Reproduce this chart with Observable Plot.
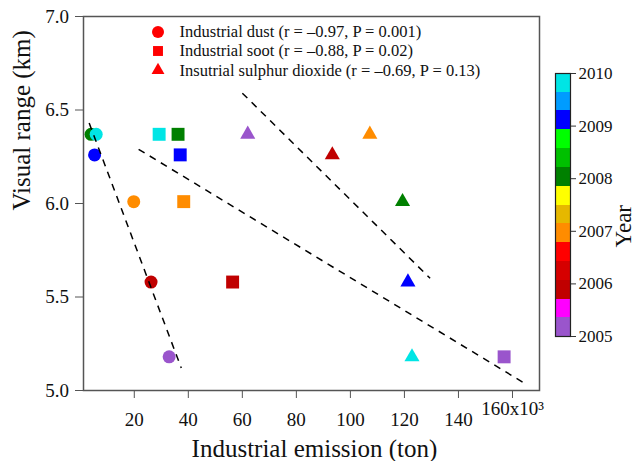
<!DOCTYPE html>
<html>
<head>
<meta charset="utf-8">
<script src="https://cdn.jsdelivr.net/npm/d3@7"></script>
<script src="https://cdn.jsdelivr.net/npm/@observablehq/plot@0.6"></script>
<style>
  body { margin: 0; background: white; }
  #wrap { position: relative; width: 637px; height: 461px; }
  #wrap svg { position: absolute; left: 0; top: 0; }
  #wrap svg, #wrap svg text { font-family: "Liberation Serif", serif !important; }
</style>
</head>
<body>
<div id="wrap"></div>
<script>
// ---- Data ----
const years = [2005, 2006, 2007, 2008, 2009, 2010];
const dustEmission = [32.9, 26.2, 19.8, 4.0, 5.3, 5.9];      // x10^3 ton
const dustVisual   = [5.18, 5.58, 6.01, 6.37, 6.26, 6.37];    // km
const sootEmission = [156.9, 56.4, 38.3, 36.2, 37.0, 29.2];
const sootVisual   = [5.18, 5.58, 6.01, 6.37, 6.26, 6.37];
const so2Emission  = [62.0, 93.3, 107.2, 119.3, 121.3, 122.8];
const so2Visual    = [6.37, 6.26, 6.37, 6.01, 5.58, 5.18];

// fitted (dashed) lines: start / end
const fitNames = ["dust", "soot", "so2"];
const fitX1 = [3.3, 21.6, 60.0];
const fitY1 = [6.43, 6.29, 6.59];
const fitX2 = [37.4, 164.3, 129.5];
const fitY2 = [5.12, 5.04, 5.60];

const legendLabels = [
  "Industrial dust (r = \u20130.97, P = 0.001)",
  "Industrial soot (r = \u20130.88, P = 0.02)",
  "Insutrial sulphur dioxide (r = \u20130.69, P = 0.13)"
];
const legendSymbols = ["circle", "square", "triangle"];

const xTicks = [20, 40, 60, 80, 100, 120, 140, 160];
const yTicks = [5.0, 5.5, 6.0, 6.5, 7.0];

// colour bar: bin edges (years) and colours, bottom to top
const binEdges = [2005.36, 2005.71, 2006.07, 2006.43, 2006.79, 2007.14, 2007.50,
                  2007.86, 2008.21, 2008.57, 2008.93, 2009.29, 2009.64];
const binColors = ["#9a55cc", "#ff00ff", "#c00000", "#d60000", "#ff0000", "#ff8c00", "#e6b800",
                   "#ffff00", "#008000", "#00c000", "#00ff00", "#0000ff", "#009cff", "#00e5e5"];

// ---- Tables ----
const mk = (xs, ys) => years.map((yr, i) => ({year: yr, x: xs[i], y: ys[i]}));
const dust = mk(dustEmission, dustVisual);
const soot = mk(sootEmission, sootVisual);
const so2 = mk(so2Emission, so2Visual);
const fits = fitNames.map((n, i) => ({name: n, x1: fitX1[i], y1: fitY1[i], x2: fitX2[i], y2: fitY2[i]}));
const bins = binColors.map((c, i) => ({
  lo: i === 0 ? 2005 : binEdges[i - 1],
  hi: i === binColors.length - 1 ? 2010 : binEdges[i]
}));
const colorScale = {type: "threshold", domain: binEdges, range: binColors};
const font = "Liberation Serif";

const legendMarks = legendLabels.flatMap((lab, i) => {
  const dyRow = [15.5, 34.5, 53.8][i];
  const rr = {circle: 6, square: 5.6, triangle: 4.8}[legendSymbols[i]];
  return [
    Plot.dot([lab], {frameAnchor: "top-left", dx: 74.5, dy: dyRow, symbol: legendSymbols[i], r: rr, fill: "#ff0000"}),
    Plot.text([lab], {frameAnchor: "top-left", dx: 96, dy: dyRow, text: d => d, textAnchor: "start",
                      lineAnchor: "middle", fontSize: 16.5, fontFamily: font, fill: "#111"})
  ];
});

const main = Plot.plot({
  width: 637, height: 461,
  marginLeft: 83, marginRight: 98, marginTop: 16, marginBottom: 71,
  style: {fontFamily: font, background: "white", color: "#111"},
  x: {domain: [1.2, 170]},
  y: {domain: [5, 7]},
  color: colorScale,
  marks: [
    Plot.axisX({ticks: xTicks, tickSize: 8, tickPadding: 13.5, fontSize: 19, fontFamily: font, stroke: "#555",
                tickFormat: d => d === 160 ? "160x10\u00B3" : String(d), label: null}),
    Plot.axisY({ticks: yTicks, tickSize: 8, tickPadding: 6.5, fontSize: 19, fontFamily: font, stroke: "#555",
                tickFormat: d3.format(".1f"), label: null}),
    Plot.frame({stroke: "#555", strokeWidth: 1.5}),
    Plot.dot(dust, {x: "x", y: "y", fill: "year", symbol: "circle", r: 6.5}),
    Plot.dot(soot, {x: "x", y: "y", fill: "year", symbol: "square", r: 7.3}),
    Plot.dot(so2, {x: "x", y: "y", fill: "year", symbol: "triangle", r: 5.6}),
    Plot.link(fits, {x1: "x1", y1: "y1", x2: "x2", y2: "y2", stroke: "black", strokeWidth: 1.5, strokeDasharray: "7,6"}),
    ...legendMarks,
    Plot.text(["Industrial emission (ton)"], {frameAnchor: "bottom", dx: 3, dy: 58, text: d => d,
                                              lineAnchor: "middle", fontSize: 25, fontFamily: font, fill: "#111"}),
    Plot.text(["Visual range (km)"], {frameAnchor: "left", dx: -61.5, dy: 7, rotate: -90, text: d => d,
                                      lineAnchor: "middle", fontSize: 25, fontFamily: font, fill: "#111"})
  ]
});

const bar = Plot.plot({
  width: 637, height: 461,
  marginLeft: 555, marginRight: 67, marginTop: 73, marginBottom: 125,
  style: {fontFamily: font, background: "transparent", color: "#111"},
  x: {domain: [0, 1], axis: null},
  y: {domain: [2005, 2010]},
  color: colorScale,
  marks: [
    Plot.rect(bins, {x1: 0, x2: 1, y1: "lo", y2: "hi", fill: d => (d.lo + d.hi) / 2, shapeRendering: "crispEdges"}),
    Plot.frame({stroke: "#222", strokeWidth: 1.2}),
    Plot.axisY({anchor: "right", ticks: years, tickSize: 5, tickPadding: 3, fontSize: 17, fontFamily: font, stroke: "#333",
                tickFormat: d => String(d), label: null}),
    Plot.text(["Year"], {frameAnchor: "right", dx: 53, rotate: -90, text: d => d,
                         lineAnchor: "middle", fontSize: 23, fontFamily: font, fill: "#111"})
  ]
});

const wrap = document.getElementById("wrap");
wrap.appendChild(main);
wrap.appendChild(bar);

// lower the 160x10^3 label slightly, like the reference
d3.select(main).selectAll("text").filter(function () { return this.textContent === "160x10\u00B3"; })
  .attr("y", function () { return (+this.getAttribute("y") || 0) + 3; });
</script>
</body>
</html>
